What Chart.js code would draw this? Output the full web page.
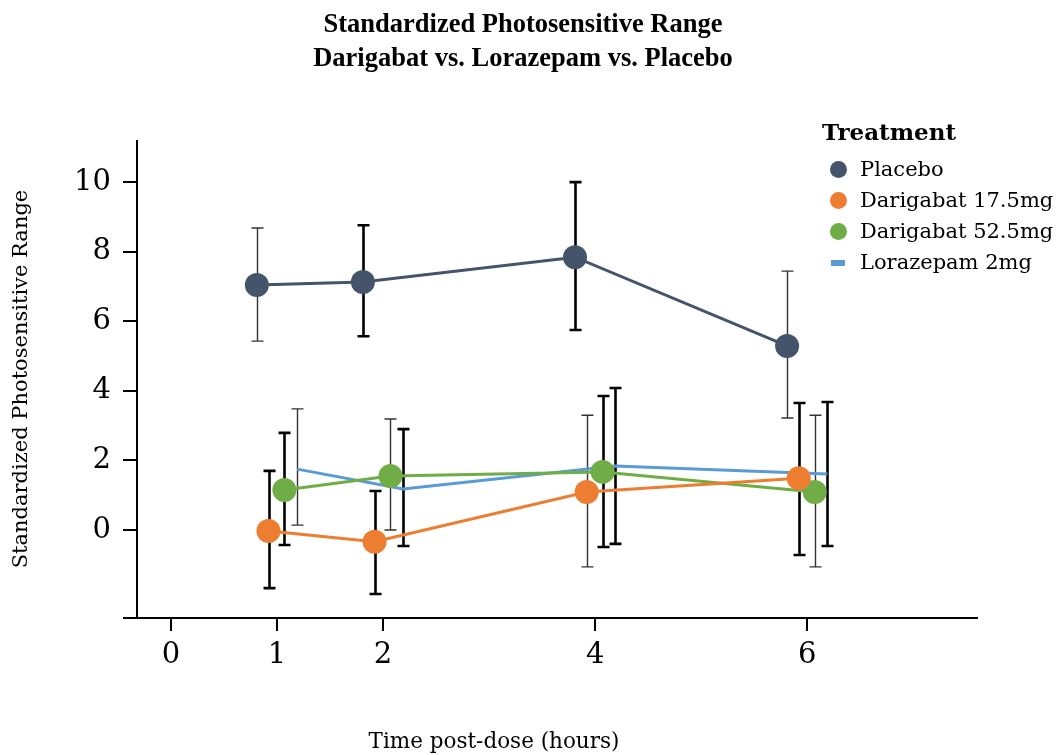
<!DOCTYPE html>
<html>
<head>
<meta charset="utf-8">
<script src="https://cdn.jsdelivr.net/npm/chart.js@4.4.1/dist/chart.umd.min.js"></script>
<style>
    body { margin: 0; background: #fff; }
    #wrap { position: relative; width: 1058px; height: 755px; font-family: 'DejaVu Serif', serif; color: #000; }
    #psrChart { position: absolute; left: 0; top: 0; }
    #title { position: absolute; top: 6px; left: -6px; width: 1058px; text-align: center; font-family: 'Liberation Serif', serif; font-weight: bold; font-size: 26.5px; line-height: 34px; }
    #xtitle { position: absolute; left: 244px; width: 500px; top: 727px; text-align: center; font-size: 21.5px; line-height: 28px; }
    #legend { position: absolute; left: 822px; top: 116px; font-size: 21px; }
    #legend .head { font-weight: bold; font-size: 23px; line-height: 32px; margin-bottom: 6px; }
    #legend .row { position: relative; height: 31px; line-height: 31px; padding-left: 38px; white-space: nowrap; }
    #legend .dot { position: absolute; left: 8px; top: 7px; width: 17px; height: 17px; border-radius: 50%; }
    #legend .dash { position: absolute; left: 9px; top: 13px; width: 14px; height: 6px; }
</style>
</head>
<body>
<div id="wrap">
    <canvas id="psrChart" width="1058" height="755"></canvas>
    <div id="title">Standardized Photosensitive Range<br>Darigabat vs. Lorazepam vs. Placebo</div>
    <div id="xtitle">Time post-dose (hours)</div>
    <div id="legend"></div>
</div>
<script>
// ── Data ──────────────────────────────────────────────────────────────
const times = [1, 2, 4, 6];
const xTicks = [0, 1, 2, 4, 6];
const yTicks = [0, 2, 4, 6, 8, 10];
const seriesNames = ['Placebo', 'Darigabat 17.5mg', 'Darigabat 52.5mg', 'Lorazepam 2mg'];

const placeboMean = [7.04, 7.13, 7.84, 5.29];
const placeboLow  = [5.43, 5.57, 5.75, 3.22];
const placeboHigh = [8.68, 8.76, 10.0, 7.44];

const dar175Mean = [-0.03, -0.34, 1.09, 1.49];
const dar175Low  = [-1.67, -1.84, -1.06, -0.72];
const dar175High = [1.70, 1.12, 3.30, 3.65];

const dar525Mean = [1.15, 1.55, 1.67, 1.09];
const dar525Low  = [-0.43, 0.00, -0.49, -1.06];
const dar525High = [2.79, 3.19, 3.85, 3.30];

const loraMean = [1.75, 1.18, 1.84, 1.61];
const loraLow  = [0.14, -0.46, -0.40, -0.46];
const loraHigh = [3.48, 2.90, 4.08, 3.68];

// ── Styling ───────────────────────────────────────────────────────────
const colors = ['#44546a', '#ed7d31', '#70ad47', '#5b9bd5'];
const dodge = [-0.19, -0.08, 0.07, 0.19];
const heavyBars = [[0, 1, 1, 0], [1, 1, 0, 1], [1, 0, 1, 0], [0, 1, 1, 1]];
const serif = 'DejaVu Serif';

const means = [placeboMean, dar175Mean, dar525Mean, loraMean];
const lows = [placeboLow, dar175Low, dar525Low, loraLow];
const highs = [placeboHigh, dar175High, dar525High, loraHigh];

const datasets = seriesNames.map((name, s) => ({
    label: name,
    data: times.map((t, i) => ({ x: t + dodge[s], y: means[s][i], lo: lows[s][i], hi: highs[s][i] })),
    borderColor: colors[s],
    backgroundColor: colors[s],
    borderWidth: 3,
    pointRadius: s === 3 ? 0 : 12,
    pointBorderWidth: 0,
    pointHoverRadius: s === 3 ? 0 : 12,
    tension: 0,
    clip: false,
    heavy: heavyBars[s]
}));

// error bars, drawn under the lines and markers
const errorBars = {
    id: 'errorBars',
    beforeDatasetsDraw(chart) {
        const { ctx, scales: { x, y } } = chart;
        chart.data.datasets.forEach(ds => {
            ds.data.forEach((p, i) => {
                const px = Math.round(x.getPixelForValue(p.x)) + 0.5;
                const top = y.getPixelForValue(p.hi);
                const bot = y.getPixelForValue(p.lo);
                const heavy = ds.heavy[i];
                ctx.save();
                ctx.strokeStyle = heavy ? '#000' : '#333';
                ctx.lineWidth = heavy ? 2.6 : 1.4;
                ctx.beginPath();
                ctx.moveTo(px, top); ctx.lineTo(px, bot);
                ctx.moveTo(px - 6, top); ctx.lineTo(px + 6, top);
                ctx.moveTo(px - 6, bot); ctx.lineTo(px + 6, bot);
                ctx.stroke();
                ctx.restore();
            });
        });
    }
};

// axis lines: x axis runs a little past the y axis on the left
const axisLines = {
    id: 'axisLines',
    afterDraw(chart) {
        const { ctx, chartArea: a } = chart;
        ctx.save();
        ctx.strokeStyle = '#000';
        ctx.lineWidth = 2;
        ctx.beginPath();
        ctx.moveTo(a.left, a.top); ctx.lineTo(a.left, a.bottom);
        ctx.moveTo(a.left - 14, a.bottom); ctx.lineTo(a.right, a.bottom);
        ctx.stroke();
        ctx.restore();
    }
};

new Chart(document.getElementById('psrChart'), {
    type: 'line',
    data: { datasets },
    options: {
        responsive: false,
        animation: false,
        layout: { padding: { top: 140, right: 80, left: 0, bottom: 0 } },
        plugins: { legend: { display: false }, title: { display: false }, tooltip: { enabled: false } },
        scales: {
            x: {
                type: 'linear',
                min: -0.32,
                max: 7.61,
                afterBuildTicks: sc => { sc.ticks = xTicks.map(v => ({ value: v })); },
                afterFit: sc => { sc.height = 137; },
                border: { display: false },
                grid: { drawOnChartArea: false, drawTicks: true, tickLength: 13, color: '#000', lineWidth: 2 },
                ticks: { color: '#000', font: { family: serif, size: 29 }, padding: 7, maxRotation: 0, autoSkip: false }
            },
            y: {
                type: 'linear',
                min: -2.53,
                max: 11.21,
                afterBuildTicks: sc => { sc.ticks = yTicks.map(v => ({ value: v })); },
                afterFit: sc => { sc.width = 137; },
                border: { display: false },
                grid: { drawOnChartArea: false, drawTicks: true, tickLength: 14, color: '#000', lineWidth: 2 },
                ticks: { color: '#000', font: { family: serif, size: 29 }, padding: 12 },
                title: { display: true, text: 'Standardized Photosensitive Range', color: '#000', font: { family: serif, size: 21 }, padding: { top: 9, bottom: 0 } }
            }
        }
    },
    plugins: [errorBars, axisLines]
});

// legend
document.getElementById('legend').innerHTML = '<div class="head">Treatment</div>' +
    seriesNames.map((name, s) => `
    <div class="row"><span class="${s === 3 ? 'dash' : 'dot'}" style="background:${colors[s]}"></span>${name}</div>`).join('');
</script>
</body>
</html>
